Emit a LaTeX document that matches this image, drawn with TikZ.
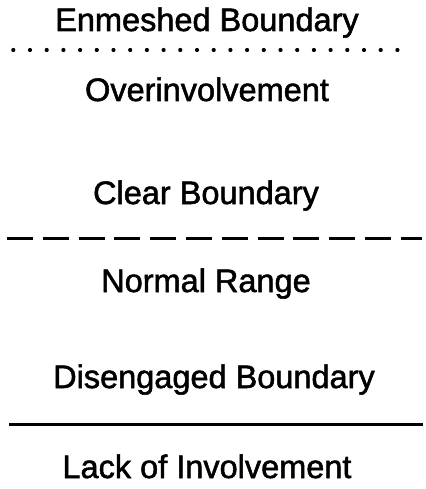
\documentclass[tikz,border=0pt]{standalone}
\usepackage{fontspec}
\newfontfamily\capfont{Liberation Sans}[RawFeature={embolden=1.6}]
\begin{document}
\begin{tikzpicture}[x=1pt, y=-1pt,
  caption/.style={anchor=base, inner sep=0pt, font=\capfont\fontsize{32.5}{38}\selectfont},
  rule/.style={line width=3pt}]
\useasboundingbox[fill=white] (0,0) rectangle (425,489);

% level labels, top to bottom
\node[caption] (enmeshed) at (207,31)  {Enmeshed Boundary};
\node[caption] (over)     at (207,101) {Overinvolvement};
\node[caption] (clear)    at (206,204) {Clear Boundary};
\node[caption] (normal)   at (206,292) {Normal Range};
\node[caption] (diseng)   at (214,388) {Disengaged Boundary};
\node[caption] (lack)     at (207,478) {Lack of Involvement};

% boundary lines
\coordinate (dotL) at (13.3,50);   \coordinate (dotR) at (414,50);
\coordinate (dashL) at (7,238);    \coordinate (dashR) at (422,238);
\coordinate (solL) at (9,424);     \coordinate (solR) at (423,424);

\draw[line width=4.2pt, line cap=round, dash pattern=on 0pt off 16.7pt] (dotL) -- (dotR);
\draw[rule, dash pattern=on 26pt off 9.8pt] (dashL) -- (dashR);
\draw[rule] (solL) -- (solR);
\end{tikzpicture}
\end{document}
